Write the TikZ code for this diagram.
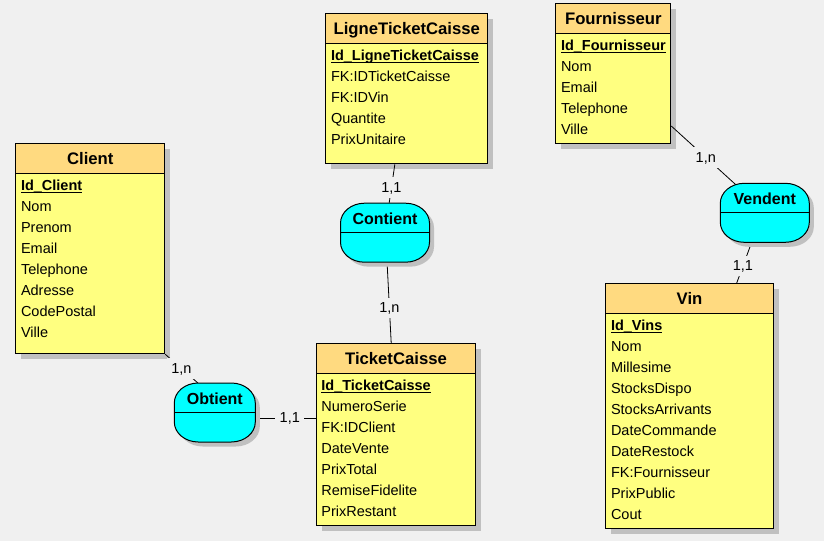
\documentclass[tikz,border=0pt]{standalone}
\usepackage{fontspec}
\setmainfont{Liberation Sans}
\definecolor{bgcol}{RGB}{240,240,240}
\definecolor{headcol}{RGB}{255,218,128}
\definecolor{bodycol}{RGB}{255,255,128}
\definecolor{relcol}{RGB}{0,255,255}
\definecolor{shadcol}{RGB}{192,192,192}
\pgfdeclarelayer{top}
\pgfsetlayers{main,top}
\newcommand\ulkey[1]{\setbox0\hbox{\bfseries #1}\rlap{\raisebox{-3.3pt}{\rule{\wd0}{1.2pt}}}\box0}
\tikzset{
  eshadow/.style={fill=shadcol},
  ebody/.style={draw, fill=bodycol, line width=1pt, inner sep=0pt},
  ehead/.style={draw, fill=headcol, line width=1pt, inner sep=0pt, minimum height=30pt,
    text height=12pt, text depth=0pt, font=\fontsize{16.7}{20}\selectfont\bfseries},
  attr/.style={anchor=west, inner sep=0pt, text height=10.4pt, text depth=0pt,
    font=\fontsize{14.5}{17}\selectfont},
  relbox/.style={minimum height=59pt, inner sep=0pt},
  relshape/.style={draw, fill=relcol, line width=1pt},
  rlabel/.style={inner sep=0pt, text height=11.5pt, text depth=0pt,
    font=\fontsize{16}{19}\selectfont\bfseries},
  divider/.style={line width=1pt},
  wire/.style={line width=0.8pt},
  card/.style={fill=bgcol, inner sep=4.5pt, text height=10.4pt, text depth=1pt,
    font=\fontsize{14.5}{17}\selectfont}
}
% entity: name, x, y, w, h, title, key, attributes
\newcommand\erent[8]{%
  \fill[eshadow] (#2+6,#3+6) rectangle (#2+#4+6,#3+#5+6);
  \node[ebody, anchor=north west, minimum width=#4pt, minimum height=#5pt] (#1) at (#2,#3) {};
  \node[ehead, anchor=north west, minimum width=#4pt] (#1-h) at (#1.north west) {#6};
  \node[attr] (#1-k) at ([xshift=5.5pt,yshift=-41.5pt]#1.north west) {\ulkey{#7}};
  \foreach \attrname [count=\i] in {#8}{
    \node[attr] (#1-\i) at ([xshift=5.5pt,yshift={-41.7pt-21pt*\i}]#1.north west) {\attrname};
  }%
}
% relationship outline: centre x, centre y, half width
\newcommand\relpath[3]{%
  (#1-#3+24,#2-29.5) -- (#1+#3-24,#2-29.5)
  arc[start angle=-90,end angle=0,x radius=24,y radius=20] -- (#1+#3,#2+9.5)
  arc[start angle=0,end angle=90,x radius=24,y radius=20] -- (#1-#3+24,#2+29.5)
  arc[start angle=90,end angle=180,x radius=24,y radius=20] -- (#1-#3,#2-9.5)
  arc[start angle=180,end angle=270,x radius=24,y radius=20] -- cycle}
% relationship: name, centre x, centre y, half width, label
\newcommand\errel[5]{%
  \fill[eshadow] \relpath{#2+4.5}{#3+4.5}{#4};
  \node[relbox, minimum width=2*#4pt] (#1) at (#2,#3) {};
  \path[relshape] \relpath{#2}{#3}{#4};
  \draw[divider] (#1.west) -- (#1.east);
  \node[rlabel] (#1-t) at ([yshift=13.8pt]#1.center) {#5};
}
\begin{document}
\begin{tikzpicture}[x=1pt,y=-1pt]
\path[use as bounding box, fill=bgcol] (0,0) rectangle (824,541);

\erent{client}{15.3}{143.3}{149}{210}{Client}{Id\_Client}{Nom,Prenom,Email,Telephone,Adresse,CodePostal,Ville}
\erent{ligne}{325.3}{13.3}{162}{150}{LigneTicketCaisse}{Id\_LigneTicketCaisse}{FK:IDTicketCaisse,FK:IDVin,Quantite,PrixUnitaire}
\erent{fournisseur}{555.3}{3.3}{115}{140}{Fournisseur}{Id\_Fournisseur}{Nom,Email,Telephone,Ville}
\erent{ticket}{315.7}{343.3}{159.6}{181.7}{TicketCaisse}{Id\_TicketCaisse}{NumeroSerie,FK:IDClient,DateVente,PrixTotal,RemiseFidelite,PrixRestant}
\erent{vin}{605.3}{283.3}{167.4}{244.4}{Vin}{Id\_Vins}{Nom,Millesime,StocksDispo,StocksArrivants,DateCommande,DateRestock,FK:Fournisseur,PrixPublic,Cout}

\begin{pgfonlayer}{top}
\errel{contient}{385}{232.7}{44.5}{Contient}
\errel{obtient}{214.8}{412.5}{40.5}{Obtient}
\errel{vendent}{764.8}{212.8}{44.5}{Vendent}
\end{pgfonlayer}

\draw[wire, shorten >=-4pt] (client.south east) -- (obtient.120) node[card,pos=0.5] (c1) {1,n};
\draw[wire, shorten <=-4pt] (obtient.-8) -- (obtient.-8 -| ticket.west) node[card,pos=0.57] (c2) {1,1};
\draw[wire, shorten <=-4pt] (contient.-86) -- (ticket.93.5) node[card,pos=0.56] (c3) {1,n};
\draw[wire, shorten >=-4pt] (ligne.-99) -- (contient.82) node[card,pos=0.6] (c4) {1,1};
\draw[wire, shorten >=-4pt] (fournisseur.-42) -- (vendent.136) node[card,pos=0.55] (c5) {1,n};
\draw[wire, shorten <=-4pt] (vendent.246) -- (vin.69) node[card,pos=0.58] (c6) {1,1};
\end{tikzpicture}
\end{document}
